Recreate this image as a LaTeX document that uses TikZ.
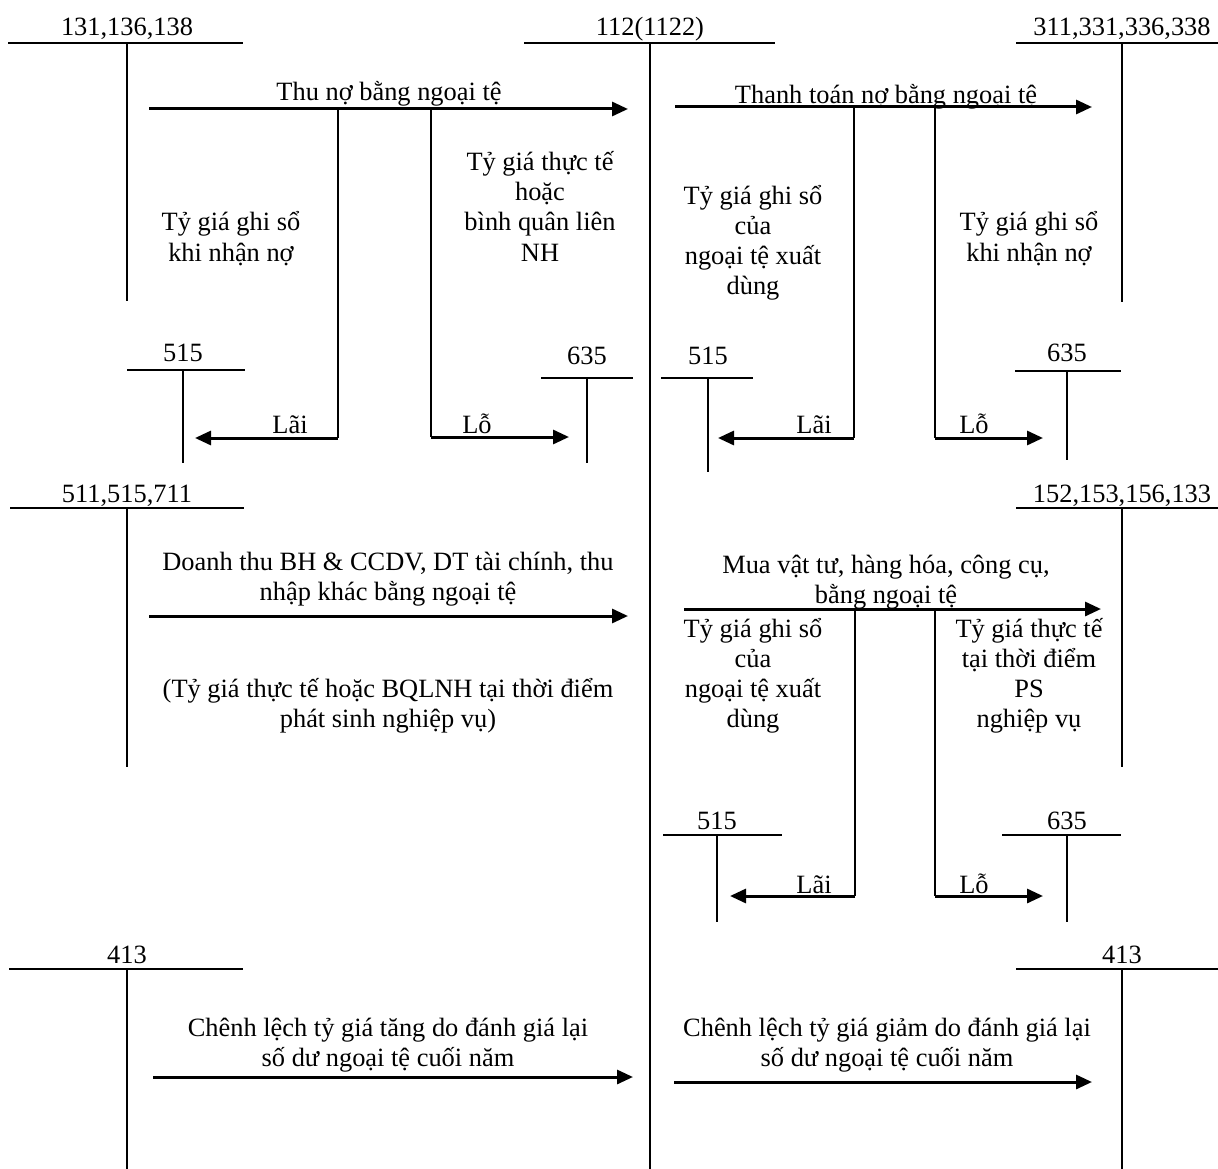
\documentclass[tikz,border=0pt]{standalone}
\usepackage{fontspec}
\setmainfont{Liberation Serif}
\usetikzlibrary{arrows.meta}
\newcommand\tacct[8]{%
  \coordinate (#1-l) at (#3,#5); \coordinate (#1-r) at (#4,#5);
  \coordinate (#1-t) at (#6,#5); \coordinate (#1-b) at (#6,#7);
  \draw[acc] (#1-l) -- (#1-r); \draw[acc] (#1-t) -- (#1-b);
  \node[txt] (#1-lab) at (#6,#8) {#2};}
\begin{document}
\begin{tikzpicture}[x=1pt,y=-1pt,
  acc/.style={line width=2pt},
  flow/.style={line width=3pt,-{Triangle[length=16pt,width=14pt]}},
  branch/.style={line width=2.5pt},
  txt/.style={font=\fontsize{26.4}{30}\selectfont, inner sep=0pt, anchor=base, align=center}]
\useasboundingbox[fill=white] (0,0) rectangle (1218,1169);

% T-accounts
\tacct{A1}{131,136,138}{8}{243}{43}{127}{301}{36}
\tacct{A2}{112(1122)}{524}{775}{43}{650}{1169}{36}
\tacct{A3}{311,331,336,338}{1016}{1218}{43}{1122}{302}{36}
\tacct{A4}{515}{127}{245}{370}{183}{463}{361}
\tacct{A5}{635}{541}{633}{378}{587}{463}{364}
\tacct{A6}{515}{661}{753}{378}{708}{472}{364}
\tacct{A7}{635}{1015}{1121}{371}{1067}{460}{361}
\tacct{B1}{511,515,711}{10}{244}{508}{127}{767}{502}
\tacct{B2}{152,153,156,133}{1016}{1218}{508}{1122}{767}{502}
\tacct{B3}{515}{663}{782}{835}{717}{922}{829}
\tacct{B4}{635}{1002}{1121}{835}{1067}{922}{829}
\tacct{C1}{413}{9}{243}{969}{127}{1169}{963}
\tacct{C2}{413}{1016}{1218}{969}{1122}{1169}{963}

% ---- Flow 1: Thu no
\node[txt] (t1) at (389,101) {Thu nợ bằng ngoại tệ};
\coordinate (f1s) at (149,109); \coordinate (f1e) at (628,109);
\draw[flow] (f1s) -- (f1e);
\coordinate (f1a) at (338,109); \coordinate (f1ac) at (338,438); \coordinate (f1ae) at (195,438);
\draw[branch] (f1a) -- (f1ac); \draw[flow] (f1ac) -- (f1ae);
\node[txt] (l1) at (290,433) {Lãi};
\coordinate (f1b) at (431,109); \coordinate (f1bc) at (431,437); \coordinate (f1be) at (569,437);
\draw[branch] (f1b) -- (f1bc); \draw[flow] (f1bc) -- (f1be);
\node[txt] (l2) at (477,433) {Lỗ};
\node[txt] (n1) at (231,261) {Tỷ giá ghi sổ\\khi nhận nợ};
\node[txt] (n2) at (540,261) {Tỷ giá thực tế\\hoặc\\bình quân liên\\NH};

% ---- Flow 2: Thanh toan
\node[txt] (t2) at (886,104) {Thanh toán nợ bằng ngoại tệ};
\coordinate (f2s) at (675,107); \coordinate (f2e) at (1092,107);
\draw[flow] (f2s) -- (f2e);
\coordinate (f2a) at (854,107); \coordinate (f2ac) at (854,438); \coordinate (f2ae) at (718,438);
\draw[branch] (f2a) -- (f2ac); \draw[flow] (f2ac) -- (f2ae);
\node[txt] (l3) at (814,433) {Lãi};
\coordinate (f2b) at (935,107); \coordinate (f2bc) at (935,438); \coordinate (f2be) at (1043,438);
\draw[branch] (f2b) -- (f2bc); \draw[flow] (f2bc) -- (f2be);
\node[txt] (l4) at (974,433) {Lỗ};
\node[txt] (n3) at (753,294) {Tỷ giá ghi sổ\\của\\ngoại tệ xuất\\dùng};
\node[txt] (n4) at (1029,261) {Tỷ giá ghi sổ\\khi nhận nợ};

% ---- Flow 3: Doanh thu
\node[txt] (t3) at (388,600) {Doanh thu BH \& CCDV, DT tài chính, thu\\nhập khác bằng ngoại tệ};
\coordinate (f3s) at (149,616); \coordinate (f3e) at (628,616);
\draw[flow] (f3s) -- (f3e);
\node[txt] (n5) at (388,727) {(Tỷ giá thực tế hoặc BQLNH tại thời điểm\\phát sinh nghiệp vụ)};

% ---- Flow 4: Mua vat tu
\node[txt] (t4) at (886,603) {Mua vật tư, hàng hóa, công cụ,\\bằng ngoại tệ};
\coordinate (f4s) at (684,609); \coordinate (f4e) at (1101,609);
\draw[flow] (f4s) -- (f4e);
\coordinate (f4a) at (855,609); \coordinate (f4ac) at (855,896); \coordinate (f4ae) at (730,896);
\draw[branch] (f4a) -- (f4ac); \draw[flow] (f4ac) -- (f4ae);
\node[txt] (l5) at (814,893) {Lãi};
\coordinate (f4b) at (935,609); \coordinate (f4bc) at (935,896); \coordinate (f4be) at (1043,896);
\draw[branch] (f4b) -- (f4bc); \draw[flow] (f4bc) -- (f4be);
\node[txt] (l6) at (974,893) {Lỗ};
\node[txt] (n6) at (753,727) {Tỷ giá ghi sổ\\của\\ngoại tệ xuất\\dùng};
\node[txt] (n7) at (1029,727) {Tỷ giá thực tế\\tại thời điểm\\PS\\nghiệp vụ};

% ---- Flow 5/6: Chenh lech
\node[txt] (t5) at (388,1066) {Chênh lệch tỷ giá tăng do đánh giá lại\\số dư ngoại tệ cuối năm};
\coordinate (f5s) at (153,1077); \coordinate (f5e) at (633,1077);
\draw[flow] (f5s) -- (f5e);
\node[txt] (t6) at (887,1066) {Chênh lệch tỷ giá giảm do đánh giá lại\\số dư ngoại tệ cuối năm};
\coordinate (f6s) at (674,1082); \coordinate (f6e) at (1092,1082);
\draw[flow] (f6s) -- (f6e);
\end{tikzpicture}
\end{document}
